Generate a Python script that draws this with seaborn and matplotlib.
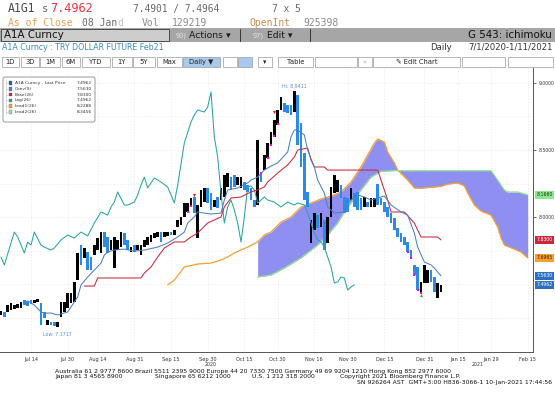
import numpy as np
import pandas as pd
import matplotlib
matplotlib.use("Agg")
import matplotlib.pyplot as plt
import matplotlib.transforms as mtransforms
from matplotlib.patches import Rectangle, FancyBboxPatch
import seaborn as sns

# ---------------- data ----------------
# trading calendar (VIOP holidays left out)
holidays = ["2020-07-15", "2020-07-31", "2020-08-03", "2020-10-29", "2021-01-01"]

bar_open = [7.270, 7.294, 7.294, 7.309, 7.316, 7.324, 7.324, 7.383, 7.376, 7.383,
            7.361, 7.368, 7.361, 7.294, 7.197, 7.219, 7.219, 7.182, 7.257, 7.294,
            7.324, 7.361, 7.368, 7.532, 7.792, 7.696, 7.740, 7.703, 7.718, 7.755,
            7.733, 7.889, 7.852, 7.755, 7.621, 7.755, 7.777, 7.882, 7.830, 7.740,
            7.792, 7.755, 7.718, 7.777, 7.792, 7.815, 7.844, 7.852, 7.889, 7.852,
            7.860, 7.889, 7.867, 7.926, 7.941, 8.001, 8.038, 8.075, 8.150, 7.844,
            8.075, 8.112, 8.217, 8.179, 8.075, 8.150, 8.127, 8.150, 8.224, 8.298,
            8.313, 8.239, 8.217, 8.261, 8.239, 8.217, 8.127, 8.090, 8.328, 8.350,
            8.440, 8.536, 8.596, 8.685, 8.797, 8.849, 8.834, 8.834, 8.782, 8.908,
            8.700, 8.477, 8.187, 7.807, 7.904, 8.015, 7.926, 7.978, 7.807, 8.001,
            8.179, 8.187, 8.239, 8.150, 8.142, 8.127, 8.179, 8.187, 8.142, 8.075,
            8.112, 8.075, 8.075, 8.250, 8.142, 8.112, 8.075, 8.030, 7.993, 7.919,
            7.882, 7.852, 7.815, 7.755, 7.644, 7.629, 7.435, 7.510, 7.510, 7.606,
            7.554, 7.398, 7.443]
bar_close = [7.300, 7.257, 7.346, 7.361, 7.346, 7.353, 7.368, 7.346, 7.338, 7.353,
             7.383, 7.390, 7.200, 7.249, 7.234, 7.197, 7.190, 7.219, 7.368, 7.368,
             7.435, 7.435, 7.517, 7.733, 7.644, 7.770, 7.606, 7.606, 7.792, 7.844,
             7.889, 7.777, 7.733, 7.830, 7.852, 7.830, 7.889, 7.792, 7.755, 7.777,
             7.740, 7.792, 7.792, 7.830, 7.852, 7.867, 7.882, 7.889, 7.815, 7.889,
             7.889, 7.867, 7.904, 7.978, 8.001, 8.105, 8.105, 8.142, 8.030, 8.090,
             8.202, 8.217, 8.105, 8.053, 8.127, 8.068, 8.217, 8.313, 8.328, 8.202,
             8.224, 8.298, 8.298, 8.202, 8.187, 8.127, 8.075, 8.574, 8.261, 8.462,
             8.551, 8.633, 8.722, 8.797, 8.893, 8.782, 8.775, 8.760, 8.935, 8.536,
             8.373, 8.127, 8.075, 7.978, 8.030, 7.919, 8.030, 7.755, 8.001, 8.224,
             8.313, 8.276, 8.142, 8.030, 8.038, 8.217, 8.075, 8.053, 8.053, 8.150,
             8.075, 8.142, 8.142, 8.090, 8.090, 8.038, 8.001, 7.956, 7.904, 7.852,
             7.815, 7.792, 7.740, 7.696, 7.569, 7.458, 7.517, 7.644, 7.606, 7.517,
             7.443, 7.510, 7.4962]

conv_idx = [8, 10, 12, 13, 15, 17, 20, 21, 23, 24, 26, 28, 30, 31, 32, 34, 37, 40, 43, 47,
            50, 53, 55, 56, 58, 59, 61, 63, 66, 67, 68, 71, 74, 75, 77, 79, 81, 83, 86, 87,
            88, 89, 91, 92, 94, 95, 97, 98, 100, 103, 104, 106, 107, 109, 111, 113, 115, 117,
            120, 122, 124, 125, 127, 129, 130, 132]
conv_val = [7.376, 7.346, 7.294, 7.286, 7.286, 7.272, 7.294, 7.331, 7.405, 7.495,
            7.554, 7.606, 7.658, 7.718, 7.740, 7.755, 7.762, 7.747, 7.755, 7.777,
            7.807, 7.852, 7.889, 7.956, 8.001, 8.038, 8.030, 8.023, 8.030, 8.127,
            8.202, 8.217, 8.254, 8.276, 8.298, 8.350, 8.380, 8.403, 8.484, 8.596,
            8.648, 8.648, 8.611, 8.499, 8.373, 8.276, 8.179, 8.075, 8.030, 8.038,
            8.105, 8.150, 8.165, 8.150, 8.127, 8.142, 8.157, 8.090, 8.038, 8.015,
            7.882, 7.777, 7.666, 7.644, 7.621, 7.563]

base_idx = [25, 28, 29, 42, 43, 45, 47, 49, 52, 55, 57, 59, 62, 66, 67, 69, 72, 75, 77, 79,
            80, 83, 86, 88, 89, 92, 93, 94, 97, 98, 113, 114, 116, 117, 121, 124, 126, 131, 132]
base_val = [7.487, 7.487, 7.547, 7.547, 7.584, 7.629, 7.703, 7.770, 7.815, 7.815,
            7.852, 7.882, 7.956, 8.001, 8.075, 8.142, 8.150, 8.187, 8.202, 8.224,
            8.261, 8.328, 8.388, 8.447, 8.499, 8.514, 8.425, 8.373, 8.373, 8.350,
            8.350, 8.276, 8.127, 8.038, 8.038, 7.956, 7.852, 7.852, 7.830]

lag_idx = [0, 1, 4, 5, 7, 8, 9, 10, 12, 13, 15, 16, 18, 20, 22, 24, 26, 28, 30, 32,
           33, 34, 35, 37, 38, 40, 41, 42, 43, 44, 46, 48, 50, 52, 53, 55, 57, 58, 59, 61,
           62, 63, 64, 65, 66, 67, 68, 69, 70, 71, 72, 73, 74, 75, 76, 77, 79, 80, 82, 84,
           86, 88, 89, 91, 92, 93, 94, 95, 96, 97, 98, 99, 100, 101, 102, 103, 104, 105, 106]
lag_val = [7.703, 7.644, 7.889, 7.852, 7.733, 7.815, 7.792, 7.889, 7.792, 7.777,
           7.755, 7.770, 7.830, 7.867, 7.844, 7.889, 7.860, 7.956, 8.038, 8.015,
           8.075, 8.112, 8.187, 8.090, 8.090, 8.112, 8.165, 8.239, 8.298, 8.217,
           8.291, 8.261, 8.224, 8.105, 8.239, 8.551, 8.707, 8.760, 8.797, 8.782,
           8.819, 8.931, 8.596, 8.447, 8.179, 7.956, 8.075, 8.127, 8.053, 7.956,
           7.815, 8.001, 8.224, 8.232, 8.202, 8.105, 8.150, 8.127, 8.112, 8.075,
           8.112, 8.090, 8.105, 8.090, 8.030, 7.956, 7.882, 7.830, 7.815, 7.777,
           7.703, 7.629, 7.510, 7.517, 7.554, 7.547, 7.458, 7.480, 7.4962]

lead1_idx = [50, 52, 55, 59, 63, 66, 68, 70, 74, 77, 79, 81, 84, 87, 90, 93, 96, 99, 102, 105,
             108, 110, 112, 113, 115, 116, 118, 119, 122, 124, 126, 132, 134, 137, 139, 140,
             142, 144, 147, 149, 150, 151, 154, 156, 158]
lead1_val = [7.495, 7.532, 7.629, 7.651, 7.658, 7.681, 7.703, 7.733, 7.777, 7.815,
             7.867, 7.889, 7.963, 8.001, 8.075, 8.105, 8.135, 8.157, 8.187, 8.261,
             8.373, 8.462, 8.551, 8.581, 8.559, 8.484, 8.403, 8.350, 8.276, 8.217,
             8.215, 8.229, 8.246, 8.254, 8.232, 8.179, 8.090, 8.045, 8.015, 7.926,
             7.844, 7.792, 7.762, 7.740, 7.6965]

lead2_idx = [77, 81, 85, 90, 95, 98, 101, 103, 105, 108, 111, 114, 118, 147, 148, 151, 152, 155, 158]
lead2_val = [7.554, 7.569, 7.621, 7.696, 7.792, 7.867, 7.956, 8.038, 8.105, 8.202,
             8.298, 8.340, 8.346, 8.346, 8.313, 8.202, 8.187, 8.187, 8.166]

mark_idx = [56, 57, 78, 80, 81, 82, 83, 122, 123, 124, 125, 126]
mark_val = [8.038, 8.080, 8.328, 8.440, 8.536, 8.600, 8.690, 7.740, 7.696, 7.569, 7.458, 7.435]
sell_idx = [58, 82]
sell_val = [8.168, 8.780]
buy_idx = [126]
buy_val = [7.420]

hi_value = 8.9411
low_value = 7.1717

tick_dates = ["2020-07-14", "2020-07-30", "2020-08-14", "2020-08-31", "2020-09-15",
              "2020-09-30", "2020-10-15", "2020-10-30", "2020-11-16", "2020-11-30",
              "2020-12-15", "2020-12-31", "2021-01-15", "2021-01-29", "2021-02-15"]
tick_labels = ["Jul 14", "Jul 30", "Aug 14", "Aug 31", "Sep 15", "Sep 30", "Oct 15",
               "Oct 30", "Nov 16", "Nov 30", "Dec 15", "Dec 31", "Jan 15", "Jan 29", "Feb 15"]
year_dates = ["2020-10-01", "2021-01-25"]
year_labels = ["2020", "2021"]

legend_names = ["A1A Curncy - Last Price", "Conv(9)", "Base(26)", "Lag(26)", "Lead1(26)", "Lead2(26)"]
legend_values = [7.4962, 7.5630, 7.8300, 7.4962, 8.2288, 8.3456]

last_labels = [8.1660, 7.8300, 7.6965, 7.5630, 7.4962]

# colours
C_UP = "#000000"
C_DOWN = "#2b8ae6"
C_CONV = "#4d7fc4"
C_BASE = "#c8283c"
C_LAG = "#2aa3a3"
C_LEAD1 = "#f5a030"
C_LEAD2 = "#8ee68e"
C_CLOUD = "#8f8ff2"


def main():
    sns.set_theme(style="white", rc={"axes.facecolor": "white", "figure.facecolor": "white"})
    plt.rcParams["font.family"] = ["DejaVu Sans"]
    mono = "DejaVu Sans Mono"

    W, H = 555, 400
    fig = plt.figure(figsize=(W / 100, H / 100), dpi=100)

    cal = pd.bdate_range("2020-07-01", "2021-03-05").drop(pd.to_datetime(holidays))

    # background layer, pixel coordinates
    bg = fig.add_axes([0, 0, 1, 1], zorder=0)
    bg.set_xlim(0, W)
    bg.set_ylim(H, 0)
    bg.axis("off")

    # ---------- header ----------
    bg.text(8, 9, "A1G1", family=mono, fontsize=8.3, color="#4a4a4a", va="center")
    bg.text(42, 9, "s", family=mono, fontsize=7.5, color="#6a6a6a", va="center")
    bg.text(50, 9, "7.4962", family=mono, fontsize=8.6, color="#e8343c", va="center")
    bg.text(133, 9, "7.4901 / 7.4964", family=mono, fontsize=6.9, color="#6a6a6a", va="center")
    bg.text(272, 9, "7 x 5", family=mono, fontsize=6.9, color="#6a6a6a", va="center")

    bg.text(8, 23, "As of Close", family=mono, fontsize=7, color="#f0a050", va="center")
    bg.text(82, 23, "08 Jan", family=mono, fontsize=7, color="#6a6a6a", va="center")
    bg.text(117, 23, "d", family=mono, fontsize=7, color="#c4c4c4", va="center")
    bg.text(142, 23, "Vol", family=mono, fontsize=7, color="#8a8a8a", va="center")
    bg.text(172, 23, "129219", family=mono, fontsize=7, color="#8a8a8a", va="center")
    bg.text(250, 23, "OpenInt", family=mono, fontsize=7, color="#c8904c", va="center")
    bg.text(303, 23, "925398", family=mono, fontsize=7, color="#8a8a8a", va="center")

    bg.add_patch(Rectangle((0, 28), W, 14, facecolor="#a6a6a6", edgecolor="none"))
    bg.add_patch(Rectangle((1, 29), 168, 12, facecolor="#cdcdcd", edgecolor="#3a3a3a", lw=0.6))
    bg.text(4, 35.5, "A1A Curncy", fontsize=7.4, color="#111111", va="center")
    bg.text(176, 35.5, "90)", fontsize=4.8, color="#e6e6e6", va="center")
    bg.text(189, 35.5, "Actions \u25be", fontsize=6.7, color="#1a1a1a", va="center")
    bg.plot([240, 240], [29, 41], color="#333333", lw=0.7)
    bg.text(253, 35.5, "97)", fontsize=4.8, color="#e6e6e6", va="center")
    bg.text(267, 35.5, "Edit \u25be", fontsize=6.7, color="#1a1a1a", va="center")
    bg.plot([310, 310], [29, 41], color="#333333", lw=0.7)
    bg.text(552, 35.5, "G 543: ichimoku", fontsize=7.4, color="#111111", va="center", ha="right")

    bg.text(2, 47, "A1A Curncy : TRY DOLLAR FUTURE Feb21", fontsize=5.7, color="#3b8eb5", va="center")
    bg.text(430, 47, "Daily", fontsize=6.1, color="#333333", va="center")
    bg.text(553, 47, "7/1/2020-1/11/2021", fontsize=6.1, color="#333333", va="center", ha="right")

    buttons = [("1D", 2, 19), ("3D", 21, 39), ("1M", 40, 60), ("6M", 62, 80), ("YTD", 82, 110),
               ("1Y", 112, 132), ("5Y", 133, 155), ("Max", 157, 182), ("Daily \u25bc", 183, 220),
               ("", 223, 237), ("", 238, 252), ("\u25be", 258, 272), ("Table", 278, 313),
               ("", 315, 357), ("\u00ab", 358, 372), ("\u270e Edit Chart", 373, 460),
               ("", 462, 505), ("", 508, 553)]
    for label, x0, x1 in buttons:
        fc = "#a9c9ec" if label.startswith("Daily") or x0 == 238 else "white"
        bg.add_patch(Rectangle((x0, 57), x1 - x0, 9.5, facecolor=fc, edgecolor="#9a9a9a", lw=0.5))
        col = "#aaaaaa" if label == "\u00ab" else "#222222"
        bg.text((x0 + x1) / 2, 62, label, fontsize=4.9, color=col, ha="center", va="center")

    # ---------- footer ----------
    foot = dict(fontsize=4.4, color="#111111", va="center")
    bg.text(55, 371.5, "Australia 61 2 9777 8600 Brazil 5511 2395 9000 Europe 44 20 7330 7500 "
            "Germany 49 69 9204 1210 Hong Kong 852 2977 6000", **foot)
    bg.text(55, 376.5, "Japan 81 3 4565 8900", **foot)
    bg.text(155, 376.5, "Singapore 65 6212 1000", **foot)
    bg.text(252, 376.5, "U.S. 1 212 318 2000", **foot)
    bg.text(340, 376.5, "Copyright 2021 Bloomberg Finance L.P.", **foot)
    bg.text(552, 382.5, "SN 926264 AST  GMT+3:00 H836-3066-1 10-Jan-2021 17:44:56", ha="right", **foot)

    # ---------- chart ----------
    ax = fig.add_axes([0, 48 / H, 533 / W, 284 / H], zorder=1)
    ax.set_facecolor("white")

    o = np.array(bar_open)
    c = np.array(bar_close)
    idx = np.arange(len(o))
    up = c >= o

    # cloud
    grid = np.arange(lead2_idx[0], lead2_idx[-1] + 1)
    l1 = np.interp(grid, lead1_idx, lead1_val)
    l2 = np.interp(grid, lead2_idx, lead2_val)
    ax.fill_between(grid, l1, l2, color=C_CLOUD, lw=0, zorder=1)

    # candles
    ax.bar(idx[up], c[up] - o[up], bottom=o[up], width=0.72, color=C_UP, lw=0, zorder=3)
    ax.bar(idx[~up], o[~up] - c[~up], bottom=c[~up], width=0.72, color=C_DOWN, lw=0, zorder=3)

    line_kw = dict(ax=ax, legend=False, sort=False, estimator=None)
    sns.lineplot(x=lead1_idx, y=lead1_val, color=C_LEAD1, linewidth=0.9, zorder=2, **line_kw)
    sns.lineplot(x=lead2_idx, y=lead2_val, color=C_LEAD2, linewidth=0.9, zorder=2, **line_kw)
    sns.lineplot(x=lag_idx, y=lag_val, color=C_LAG, linewidth=0.75, zorder=4, **line_kw)
    sns.lineplot(x=base_idx, y=base_val, color=C_BASE, linewidth=0.75, zorder=4, **line_kw)
    sns.lineplot(x=conv_idx, y=conv_val, color=C_CONV, linewidth=0.75, zorder=4, **line_kw)

    ax.scatter(mark_idx, mark_val, s=2.5, marker="s", color="#ff00ff", lw=0, zorder=5)
    ax.scatter(sell_idx, sell_val, s=5, marker="v", color="#e02020", lw=0, zorder=5)
    ax.scatter(buy_idx, buy_val, s=5, marker="^", color="#30b030", lw=0, zorder=5)

    hi_i = int(np.argmax(c))
    lo_i = int(np.argmin(o))
    ax.annotate(f"Hi: {hi_value:.4f}", (hi_i, hi_value), xytext=(0, 1.5), textcoords="offset points",
                ha="center", va="bottom", fontsize=3.4, color="#5d8fd6", zorder=6)
    ax.annotate(f"Low: {low_value:.4f}", (lo_i, low_value), xytext=(0, -2.5), textcoords="offset points",
                ha="center", va="top", fontsize=3.4, color="#5d8fd6", zorder=6)

    ax.set_xlim(-0.3, 159.6)
    ax.set_ylim(6.9963, 9.1094)

    xt = cal.get_indexer(pd.to_datetime(tick_dates))
    ax.set_xticks(xt)
    ax.set_xticklabels(tick_labels)
    ax.yaxis.tick_right()
    ax.set_yticks([8.0, 8.5, 9.0])
    ax.set_yticklabels(["8.0000", "8.5000", "9.0000"])
    ax.set_yticks([7.25, 7.5, 7.75, 8.25, 8.75], minor=True)
    ax.tick_params(axis="x", labelsize=3.6, colors="#333333", length=2, width=0.5, pad=1.5)
    ax.tick_params(axis="y", which="major", labelsize=3.3, colors="#333333", length=2, width=0.5, pad=2)
    ax.tick_params(axis="y", which="minor", length=0)
    ax.grid(True, which="both", color="#d6d6d6", linestyle=(0, (1, 3)), linewidth=0.5)
    ax.set_axisbelow(True)
    for side in ("left", "top"):
        ax.spines[side].set_visible(False)
    for side in ("right", "bottom"):
        ax.spines[side].set_color("#555555")
        ax.spines[side].set_linewidth(0.7)
    ax.set_xlabel("")
    ax.set_ylabel("")

    yl = cal.get_indexer(pd.to_datetime(year_dates))
    for pos, lab in zip(yl, year_labels):
        ax.text(pos, -0.043, lab, transform=mtransforms.blended_transform_factory(ax.transData, ax.transAxes),
                fontsize=3.4, color="#333333", ha="center", va="center", clip_on=False)

    # last value boxes on the right axis
    trans = mtransforms.blended_transform_factory(ax.transAxes, ax.transData)
    box_styles = [(C_LEAD2, "#0a3a0a"), (C_BASE, "white"), (C_LEAD1, "#3a2000"),
                  ("#2f6fc0", "white"), ("#2f6fc0", "white")]
    for val, (fc, tc) in zip(last_labels, box_styles):
        ax.text(1.006, val, f"{val:.4f}", transform=trans, fontsize=3.3, color=tc, ha="left", va="center",
                clip_on=False, zorder=7,
                bbox=dict(boxstyle="square,pad=0.3", fc=fc, ec="none"))

    # ---------- legend box (pixel coordinates) ----------
    fg = fig.add_axes([0, 0, 1, 1], zorder=2)
    fg.set_xlim(0, W)
    fg.set_ylim(H, 0)
    fg.patch.set_alpha(0)
    fg.axis("off")
    fg.add_patch(FancyBboxPatch((3, 77), 92, 45, boxstyle="round,pad=0,rounding_size=2",
                                facecolor="white", edgecolor="#8a8a8a", lw=0.6))
    fg.plot([5.5, 5.5], [80, 114], color="#c0c0c0", lw=0.4)
    sq_colors = ["#1f5fb0", C_CONV, C_BASE, C_LAG, C_LEAD1, C_LEAD2]
    for k, (name, val, col) in enumerate(zip(legend_names, legend_values, sq_colors)):
        y = 83 + 5.8 * k
        fg.plot([5.5, 8], [y, y], color="#c0c0c0", lw=0.4)
        fg.add_patch(Rectangle((8.5, y - 1.8), 3.6, 3.6, facecolor=col, edgecolor="#555555", lw=0.2))
        fg.text(15, y, name, fontsize=3.2, color="#333333", va="center")
        fg.text(92, y, f"{val:.4f}", fontsize=3.2, color="#333333", va="center", ha="right")

    fig.savefig("out.png", dpi=100)
    plt.close(fig)


if __name__ == "__main__":
    main()
